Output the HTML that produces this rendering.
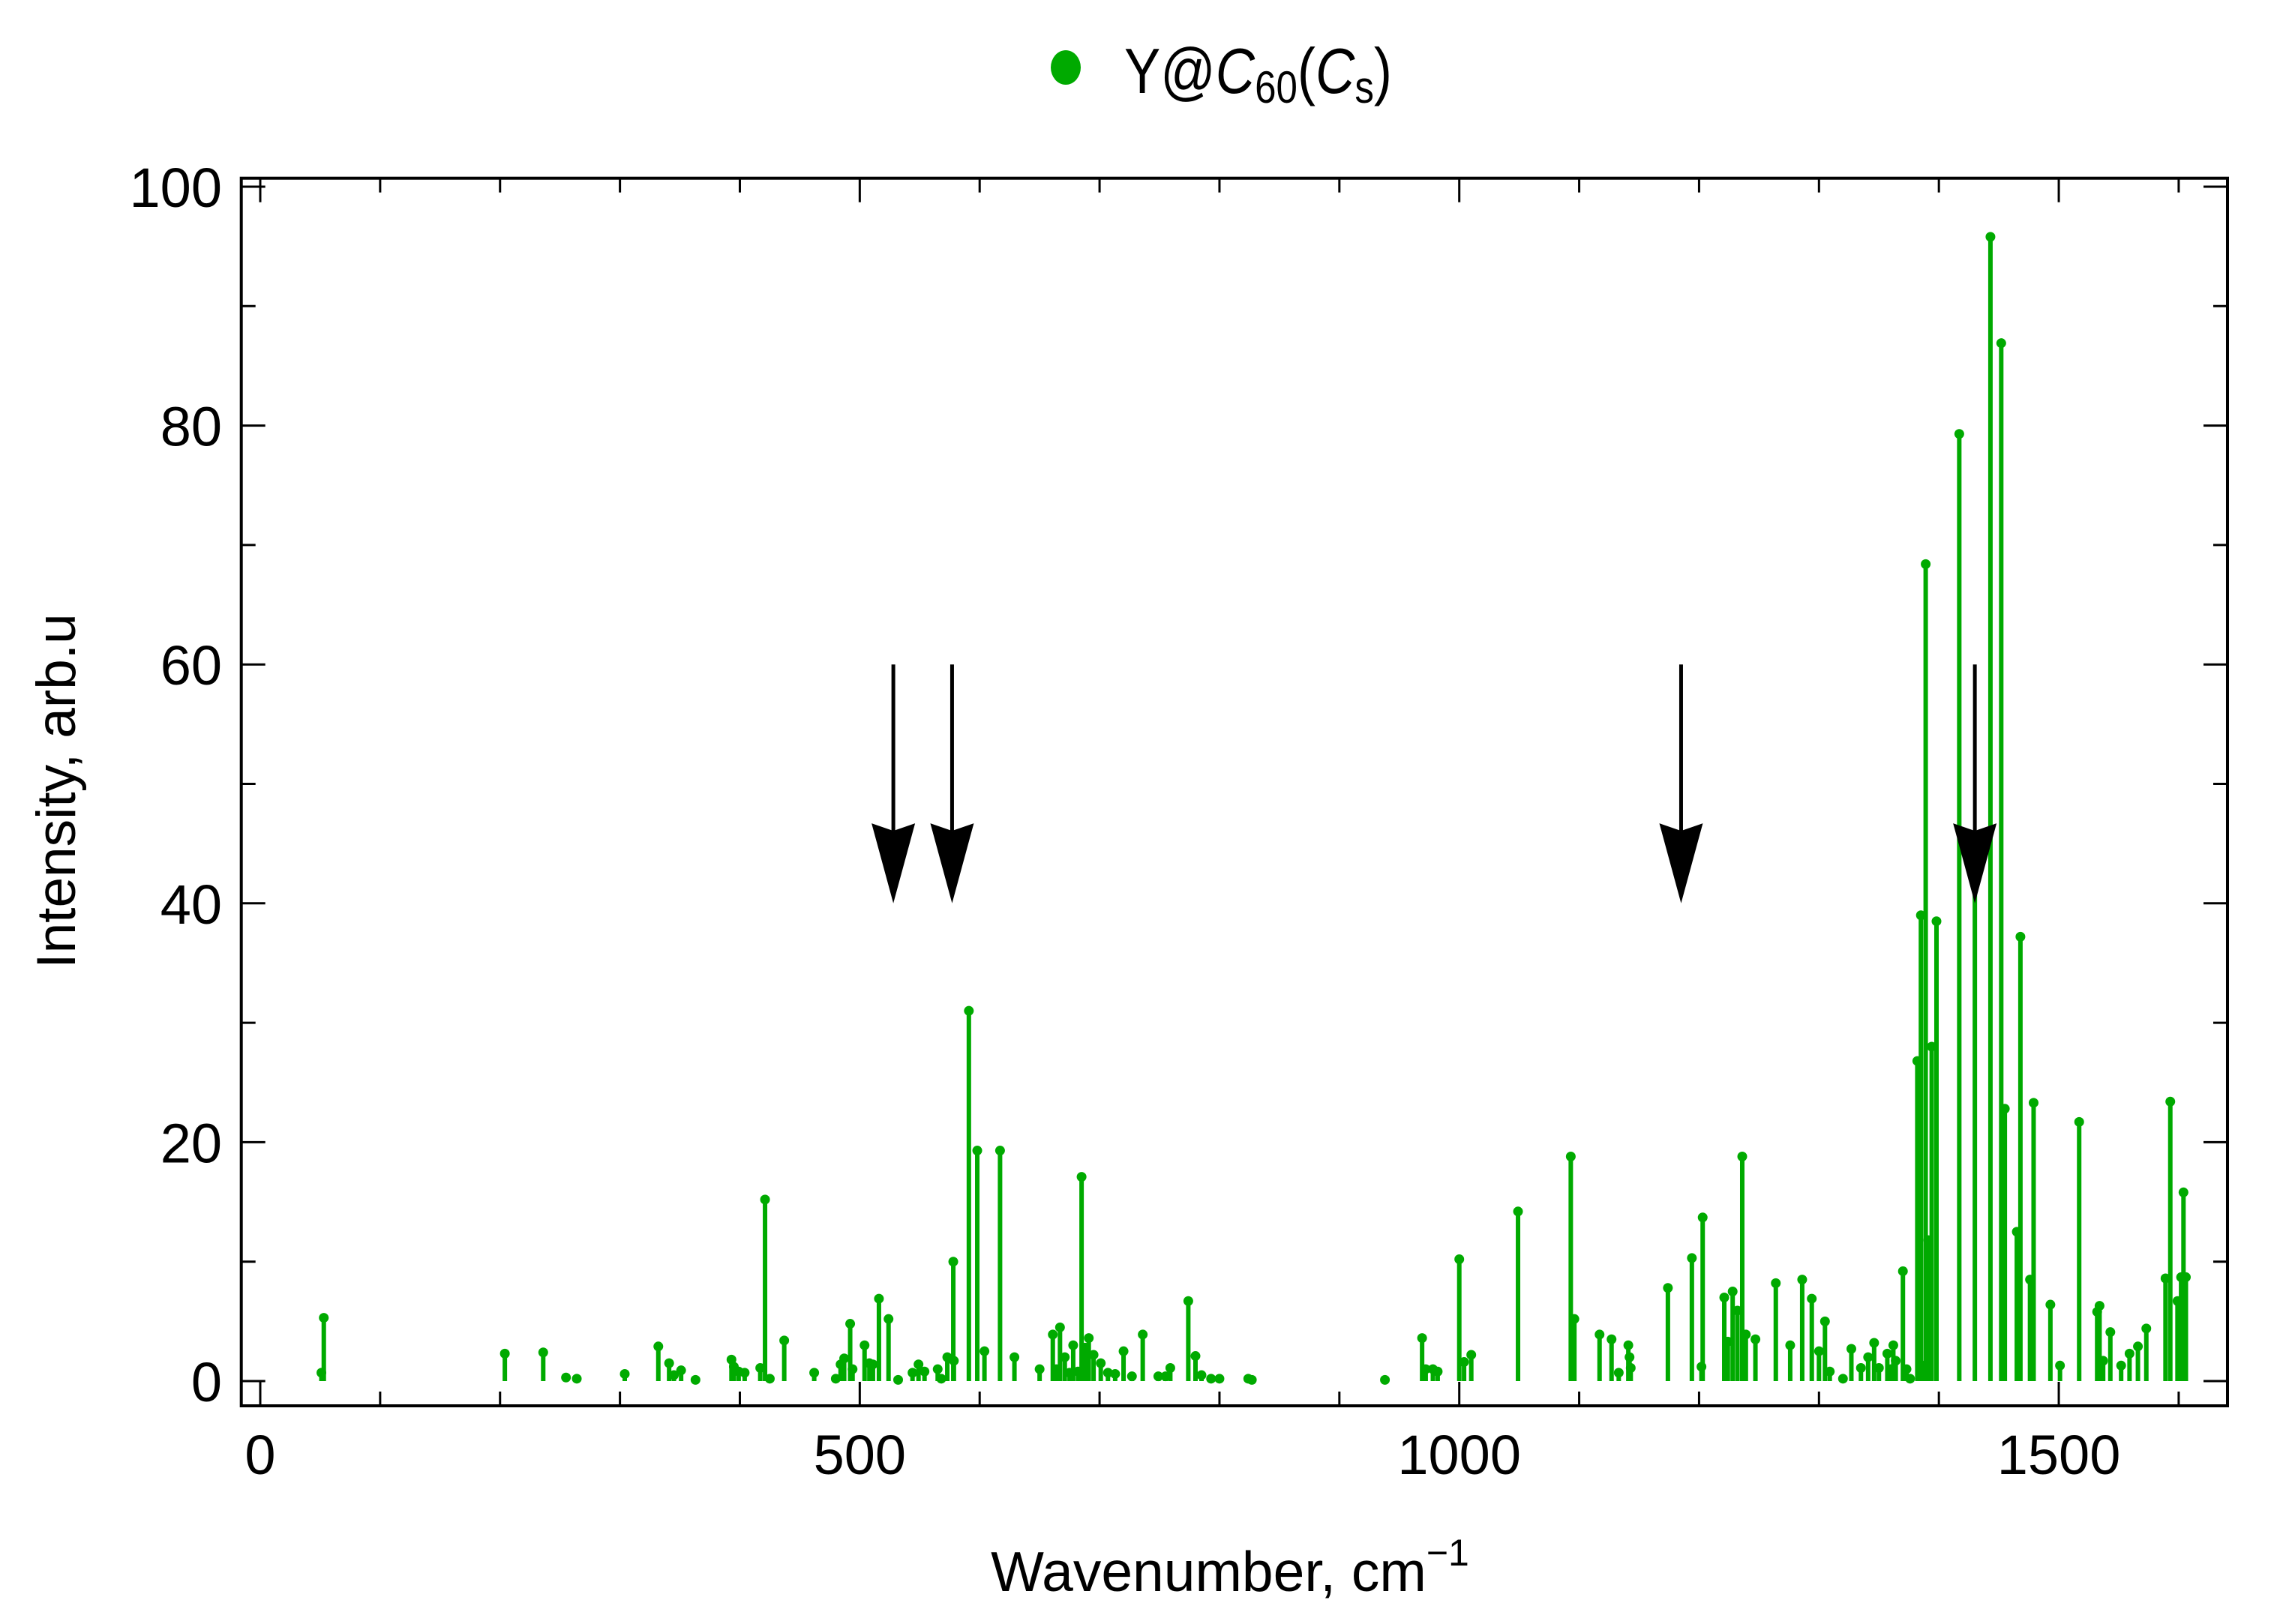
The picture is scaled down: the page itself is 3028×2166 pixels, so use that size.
<!DOCTYPE html>
<html><head><meta charset="utf-8"><style>
html,body{margin:0;padding:0;background:#fff;}
svg{display:block;font-family:"Liberation Sans",Arial,sans-serif;}
</style></head><body>
<svg id="chart" width="3028" height="2166" viewBox="0 0 3028 2166" xmlns="http://www.w3.org/2000/svg">
<rect width="3028" height="2166" fill="#fff"/>
<g id="legend">
 <ellipse cx="1421" cy="90" rx="20" ry="23" fill="#00aa00"/>
 <text x="1499" y="124" font-size="85" fill="#000" textLength="357" lengthAdjust="spacingAndGlyphs">Y@<tspan font-style="italic">C</tspan><tspan font-size="60" dy="13">60</tspan><tspan dy="-13">(</tspan><tspan font-style="italic">C</tspan><tspan font-size="60" dy="13">s</tspan><tspan dy="-13">)</tspan></text>
</g>
<g id="stems"></g>
<g id="arrows"></g>
<g id="axes"></g>
<text transform="translate(100,1055) rotate(-90)" text-anchor="middle" font-size="73" fill="#000">Intensity, arb.u</text>
<text x="1640" y="2122" text-anchor="middle" font-size="75" fill="#000">Wavenumber, cm<tspan font-size="50" dy="-34">−1</tspan></text>
</svg>
<script>
const wavenumbers = [51,53,204,236,255,264,304,332,341,345,351,363,393,395,399,404,417,421,425,437,462,480,484,487,492,494,504,508,511,516,524,532,544,549,554,565,568,573,578,578.5,591,598,604,617,629,650,661,664,667,671,675,678,682,685,688,691,695,701,707,713,720,727,736,749,755,759,774,780,785,793,800,824,827,938,969,972,978,982,1000,1004,1010,1049,1093,1096,1117,1127,1133,1141,1142,1143,1174,1194,1202,1203,1221,1224,1228,1232,1236,1239,1247,1264,1276,1286,1294,1300,1305,1309,1320,1327,1335,1341,1346,1350,1357,1360,1362,1364,1370,1373,1376,1382,1385,1388,1389,1391,1394,1398,1417,1430,1443,1452,1455,1465,1468,1476,1479,1493,1501,1517,1532,1534,1537,1543,1552,1559,1566,1573,1589,1593,1599,1602,1604,1606];
const intensities = [0.7,5.3,2.3,2.4,0.3,0.2,0.6,2.9,1.5,0.5,0.9,0.1,1.8,1.2,0.8,0.7,1.1,15.2,0.2,3.4,0.7,0.2,1.4,1.9,4.8,1,3,1.5,1.4,6.9,5.2,0.1,0.7,1.4,0.8,1,0.2,2,10,1.7,31,19.3,2.5,19.3,2,1,3.9,1,4.5,2,0.7,3,0.8,17.1,2.8,3.6,2.2,1.5,0.7,0.6,2.5,0.4,3.9,0.4,0.4,1.1,6.7,2.1,0.5,0.2,0.2,0.2,0.1,0.1,3.6,1,1,0.8,10.2,1.6,2.2,14.2,18.8,5.2,3.9,3.5,0.7,3,2,1.1,7.8,10.3,1.2,13.7,7,3.3,7.5,5.9,18.8,3.9,3.5,8.2,3,8.5,6.9,2.5,5,0.8,0.2,2.7,1.1,2,3.2,1.1,2.3,1,3,1.7,9.2,1,0.2,26.8,39,1.3,68.4,11.8,28,38.5,79.3,45,95.8,86.9,22.8,12.5,37.2,8.5,23.3,6.4,1.3,21.7,5.8,6.3,1.7,4.1,1.3,2.3,2.9,4.4,8.6,23.4,6.7,8.7,15.8,8.7];
const arrowPositions = [528,577,1185,1430];
const arrowFrom = 60, arrowTo = 40;
const xTickLabels = [0,500,1000,1500];
const yTickLabels = [0,20,40,60,80,100];

const NS = "http://www.w3.org/2000/svg";
const X0 = 347, XS = 1.5987, Y0 = 1842, YS = 15.93;
const L = 321.7, R = 2970, T = 237.7, B = 1875;
const xs = v => X0 + v * XS;
const ys = v => Y0 - v * YS;
function mk(tag, attrs, parent){const e=document.createElementNS(NS,tag);for(const k in attrs)e.setAttribute(k,attrs[k]);parent.appendChild(e);return e;}

const stems = document.getElementById('stems');
wavenumbers.forEach((w,i)=>{
  const x = xs(w), y = ys(intensities[i]);
  const l = mk('line',{x1:x,x2:x,y1:Y0,y2:y,stroke:'#00aa00','stroke-width':6},stems);
  
  
  const c = mk('circle',{cx:x,cy:y,r:6.5,fill:'#00aa00'},stems);
  
  
});

const arrows = document.getElementById('arrows');
arrowPositions.forEach(w=>{
  const x = xs(w), yt = ys(arrowFrom), yb = ys(arrowTo);
  const hh = 6.7*YS;
  const s = mk('line',{x1:x,x2:x,y1:yt,y2:yb-hh+10,stroke:'#000','stroke-width':5},arrows);
  
  
  const p = mk('path',{d:`M${x-29},${yb-hh} L${x},${yb-hh+10} L${x+29},${yb-hh} L${x},${yb} Z`,fill:'#000'},arrows);
  
  
});

const axes = document.getElementById('axes');
const f = mk('rect',{x:L,y:T,width:R-L,height:B-T,fill:'none',stroke:'#000','stroke-width':4},axes);


for(let v=0; v<=1600; v+=100){
  const x = xs(v), len = v%500===0 ? 32 : 19;
  const a = mk('line',{x1:x,x2:x,y1:B,y2:B-len,stroke:'#000','stroke-width':3},axes);
  
  
  const b = mk('line',{x1:x,x2:x,y1:T,y2:T+len,stroke:'#000','stroke-width':3},axes);
  
  
}
for(let v=0; v<=100; v+=10){
  const y = ys(v), len = v%20===0 ? 32 : 19;
  const a = mk('line',{x1:L,x2:L+len,y1:y,y2:y,stroke:'#000','stroke-width':3},axes);
  
  
  const b = mk('line',{x1:R,x2:R-len,y1:y,y2:y,stroke:'#000','stroke-width':3},axes);
  
  
}
xTickLabels.forEach(v=>{
  const t = mk('text',{x:xs(v),y:1966,'text-anchor':'middle','font-size':74,fill:'#000'},axes);
  t.textContent = v;
  
  
});
yTickLabels.forEach(v=>{
  const t = mk('text',{x:296,y:ys(v)+27,'text-anchor':'end','font-size':74,fill:'#000'},axes);
  t.textContent = v;
  
  
});
</script>
</body></html>
